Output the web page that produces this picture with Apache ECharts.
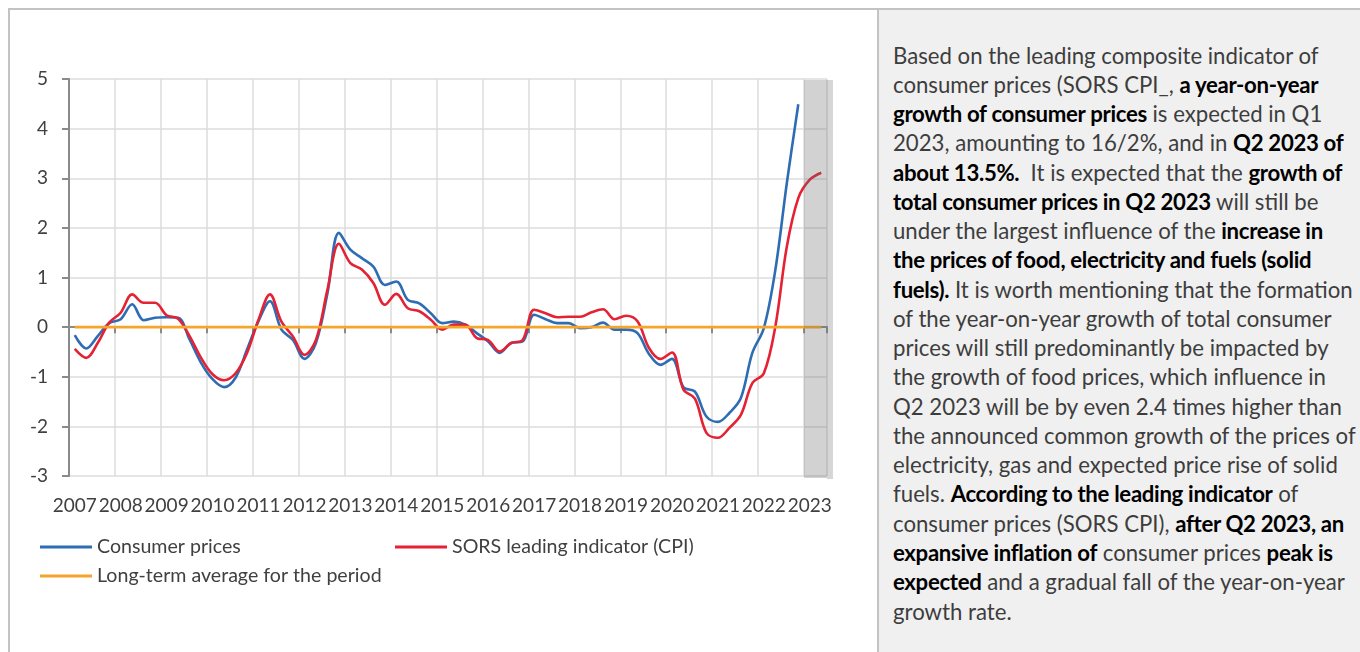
<!DOCTYPE html>
<html>
<head>
<meta charset="utf-8">
<title>Consumer prices and SORS leading indicator</title>
<script src="https://cdn.jsdelivr.net/npm/echarts@6/dist/echarts.min.js"></script>
<style>
  html, body { margin: 0; padding: 0; background: #ffffff; }
  body { width: 1360px; height: 652px; position: relative; overflow: hidden; font-family: Lato, "Open Sans", sans-serif; }
  #chart { position: absolute; left: 0; top: 0; width: 878px; height: 652px; }
  .rule { position: absolute; background: #c3c3c3; }
  #panel { position: absolute; left: 879px; top: 10px; right: 0; bottom: 0; background: #f0f0f0; }
  #note { position: absolute; left: 14px; top: 30.5px; font-size: 22.2px; line-height: 29.26px; color: #3d3d3d; white-space: nowrap; }
  #note b { color: #000000; font-weight: 700; letter-spacing: -0.32px; }
</style>
</head>
<body>
<div id="chart"></div>
<div id="panel">
  <div id="note">
    <div>Based on the leading composite indicator of</div>
    <div>consumer prices (SORS CPI_, <b>a year-on-year</b></div>
    <div><b>growth of consumer prices</b> is expected in Q1</div>
    <div>2023, amounting to 16/2%, and in <b>Q2 2023 of</b></div>
    <div><b>about 13.5%.</b>&nbsp; It is expected that the <b>growth of</b></div>
    <div><b>total consumer prices in Q2 2023</b> will still be</div>
    <div>under the largest influence of the <b>increase in</b></div>
    <div><b>the prices of food, electricity and fuels (solid</b></div>
    <div><b>fuels).</b> It is worth mentioning that the formation</div>
    <div>of the year-on-year growth of total consumer</div>
    <div>prices will still predominantly be impacted by</div>
    <div>the growth of food prices, which influence in</div>
    <div>Q2 2023 will be by even 2.4 times higher than</div>
    <div>the announced common growth of the prices of</div>
    <div>electricity, gas and expected price rise of solid</div>
    <div>fuels. <b>According to the leading indicator</b> of</div>
    <div>consumer prices (SORS CPI), <b>after Q2 2023, an</b></div>
    <div><b>expansive inflation of</b> consumer prices <b>peak is</b></div>
    <div><b>expected</b> and a gradual fall of the year-on-year</div>
    <div>growth rate.</div>
  </div>
</div>
<div class="rule" style="left:8px; top:8px; width:1352px; height:2px;"></div>
<div class="rule" style="left:8px; top:8px; width:2px; height:644px;"></div>
<div class="rule" style="left:877px; top:8px; width:2px; height:644px;"></div>
<script>
// Year labels on the category axis (one label per Q1)
const years = [2007, 2008, 2009, 2010, 2011, 2012, 2013, 2014, 2015, 2016, 2017, 2018, 2019, 2020, 2021, 2022, 2023];
const quarterNames = ['Q1', 'Q2', 'Q3', 'Q4'];
// Quarterly observations run from 2007 Q1 to 2023 Q2
const lastYearQuarters = 2;

const yTicks = { min: -3, max: 5, step: 1 };

// Consumer prices, 2007 Q1 - 2022 Q4
const consumerPrices = [
  -0.16, -0.43, -0.18, 0.08,
  0.16, 0.46, 0.14, 0.19,
  0.20, 0.19, -0.25, -0.72,
  -1.05, -1.21, -1.02, -0.45,
  0.12, 0.52, -0.05, -0.26,
  -0.64, -0.32, 0.68, 1.90,
  1.56, 1.39, 1.22, 0.85,
  0.92, 0.55, 0.48, 0.28,
  0.08, 0.11, 0.05, -0.12,
  -0.29, -0.52, -0.32, -0.29,
  0.25, 0.16, 0.08, 0.08,
  -0.02, 0.00, 0.09, -0.05,
  -0.05, -0.12, -0.54, -0.76,
  -0.64, -1.21, -1.30, -1.80,
  -1.91, -1.73, -1.43, -0.52,
  -0.02, 1.15, 2.90, 4.49
];

// SORS leading indicator (CPI), 2007 Q1 - 2023 Q2
const sorsIndicator = [
  -0.44, -0.62, -0.32, 0.09,
  0.29, 0.66, 0.49, 0.49,
  0.24, 0.17, -0.18, -0.62,
  -0.95, -1.07, -0.93, -0.52,
  0.15, 0.66, 0.11, -0.19,
  -0.56, -0.26, 0.75, 1.68,
  1.29, 1.16, 0.89, 0.45,
  0.67, 0.38, 0.32, 0.15,
  -0.05, 0.05, 0.05, -0.22,
  -0.26, -0.49, -0.32, -0.26,
  0.35, 0.28, 0.20, 0.21,
  0.21, 0.30, 0.36, 0.16,
  0.23, 0.12, -0.42, -0.64,
  -0.51, -1.26, -1.44, -2.13,
  -2.23, -2.03, -1.77, -1.13,
  -0.93, 0.01, 1.62, 2.60,
  2.97, 3.11
];

// Long-term average for the period (deviation scale)
const longTermAverage = [
  0, 0, 0, 0, 0, 0, 0, 0, 0, 0, 0, 0, 0, 0, 0, 0, 0, 0, 0, 0, 0, 0,
  0, 0, 0, 0, 0, 0, 0, 0, 0, 0, 0, 0, 0, 0, 0, 0, 0, 0, 0, 0, 0, 0,
  0, 0, 0, 0, 0, 0, 0, 0, 0, 0, 0, 0, 0, 0, 0, 0, 0, 0, 0, 0, 0, 0
];

// Forecast quarters shaded in grey
const forecastQuarters = ['2023 Q1', '2023 Q2'];

const seriesNames = ['Consumer prices', 'SORS leading indicator (CPI)', 'Long-term average for the period'];
const seriesColors = ['#2e6cb3', '#e42233', '#f5a62a'];

// Build the quarterly category list
const categories = [];
years.forEach((y, yi) => {
  const n = yi === years.length - 1 ? lastYearQuarters : 4;
  for (let q = 0; q < n; q++) categories.push(y + ' ' + quarterNames[q]);
});

const forecastRange = [[categories.indexOf(forecastQuarters[0]), categories.indexOf(forecastQuarters[forecastQuarters.length - 1])]];

const textColor = '#404040';
const fontFamily = 'Lato, "Open Sans", sans-serif';
const gridColor = '#dcdcdc';
const axisColor = '#8a8a8a';

const chart = echarts.init(document.getElementById('chart'), null, { renderer: 'canvas' });

const lineSeries = [consumerPrices, sorsIndicator, longTermAverage].map((data, i) => ({
  name: seriesNames[i],
  type: 'line',
  data: data,
  smooth: 0.35,
  symbol: 'none',
  xAxisIndex: 0,
  yAxisIndex: 0,
  lineStyle: { color: seriesColors[i], width: 2.6 },
  itemStyle: { color: seriesColors[i] },
  z: 2 + i,
  silent: true
}));

const legendBase = {
  orient: 'horizontal',
  icon: 'rect',
  itemWidth: 52,
  itemHeight: 3,
  padding: 0,
  selectedMode: false,
  textStyle: { color: textColor, fontSize: 19.6, fontFamily: fontFamily }
};

chart.setOption({
  animation: false,
  backgroundColor: 'transparent',
  grid: { left: 69, right: 51, top: 79, bottom: 176, containLabel: false },
  legend: [
    Object.assign({}, legendBase, { data: [seriesNames[0]], left: 40, top: 537 }),
    Object.assign({}, legendBase, { data: [seriesNames[1]], left: 395, top: 537 }),
    Object.assign({}, legendBase, { data: [seriesNames[2]], left: 40, top: 566 })
  ],
  xAxis: [
    {
      type: 'category',
      data: categories,
      position: 'bottom',
      boundaryGap: true,
      axisLine: { show: false, onZero: false },
      axisTick: { show: false },
      axisLabel: {
        interval: 3,
        color: textColor,
        fontSize: 19,
        fontFamily: fontFamily,
        margin: 20,
        formatter: (v) => v.split(' ')[0]
      },
      splitLine: { show: true, interval: 3, lineStyle: { color: gridColor, width: 1.5 } }
    },
    {
      type: 'category',
      data: categories,
      position: 'top',
      boundaryGap: true,
      axisLine: { show: true, onZero: true, onZeroAxisIndex: 0, lineStyle: { color: axisColor, width: 2 } },
      axisTick: { show: true, inside: true, interval: 3, length: 6, lineStyle: { color: axisColor, width: 2 } },
      axisLabel: { show: false },
      splitLine: { show: false }
    }
  ],
  yAxis: [
    {
      type: 'value',
      min: yTicks.min,
      max: yTicks.max,
      interval: yTicks.step,
      axisLine: { show: true, onZero: false, lineStyle: { color: axisColor, width: 2 } },
      axisTick: { show: true, length: 7, lineStyle: { color: axisColor, width: 2 } },
      axisLabel: { color: textColor, fontSize: 19, fontFamily: fontFamily, margin: 21 },
      splitLine: { show: true, lineStyle: { color: gridColor, width: 1.5 } }
    }
  ],
  series: lineSeries.concat([
    {
      name: 'forecast',
      type: 'custom',
      xAxisIndex: 0,
      yAxisIndex: 0,
      silent: true,
      z: 10,
      data: forecastRange,
      encode: { x: [0, 1] },
      renderItem: function (params, api) {
        const cs = params.coordSys;
        const bandW = api.size([1, 0])[0];
        const a = api.coord([api.value(0), 0]);
        const b = api.coord([api.value(1), 0]);
        const x0 = a[0] - bandW / 2;
        const w = b[0] - a[0] + bandW;
        return {
          type: 'group',
          children: [
            {
              type: 'rect',
              shape: { x: x0, y: cs.y + 1, width: w, height: cs.height + 1 },
              style: { fill: 'rgba(105,105,105,0.3)' }
            },
            {
              // drop shadow along the right edge of the band
              type: 'rect',
              shape: { x: x0 + w, y: cs.y + 1, width: 6, height: cs.height + 2 },
              style: { fill: 'rgba(105,105,105,0.27)' }
            }
          ]
        };
      }
    }
  ])
});
</script>
</body>
</html>
